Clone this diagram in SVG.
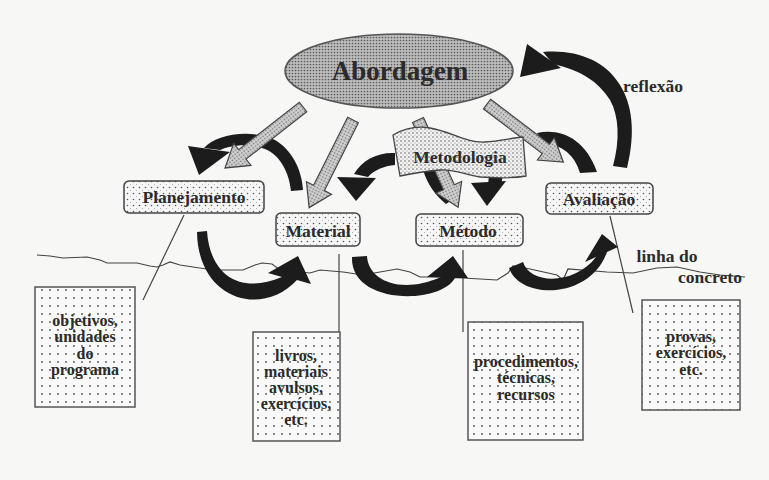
<svg xmlns="http://www.w3.org/2000/svg" width="769" height="480" viewBox="0 0 769 480">
<style>
text{font-family:"Liberation Serif","Times New Roman",serif;font-weight:bold;fill:#2b2b2b;text-anchor:middle}
.lbl{font-size:17.5px}
.sm{font-size:16px}
.box{fill:url(#dotsL);stroke:#555;stroke-width:1.5}
.rbox{fill:url(#dotsS);stroke:#444;stroke-width:1.5}
.garr{fill:url(#gray);stroke:#444;stroke-width:1.2}
.black{fill:#1c1c1c}
.thin{fill:none;stroke:#444;stroke-width:1.2}
</style>
<defs>
<pattern id="dotsL" width="8" height="8" patternUnits="userSpaceOnUse"><rect width="8" height="8" fill="#fafafa"/><circle cx="2" cy="2" r="0.9" fill="#555"/></pattern>
<pattern id="dotsS" width="6" height="6" patternUnits="userSpaceOnUse"><rect width="6" height="6" fill="#f6f6f6"/><circle cx="1.5" cy="1.5" r="0.8" fill="#555"/><circle cx="4.5" cy="4.5" r="0.5" fill="#999"/></pattern>
<pattern id="gray" width="3" height="3" patternUnits="userSpaceOnUse"><rect width="3" height="3" fill="#cfcfcf"/><circle cx="1.5" cy="1.5" r="0.75" fill="#6a6a6a"/></pattern>
<pattern id="grayD" width="3" height="3" patternUnits="userSpaceOnUse"><rect width="3" height="3" fill="#bdbdbd"/><circle cx="1.5" cy="1.5" r="0.85" fill="#5a5a5a"/></pattern>
<pattern id="banner" width="4" height="4" patternUnits="userSpaceOnUse"><rect width="4" height="4" fill="#f2f2f2"/><circle cx="1" cy="1" r="0.75" fill="#555"/><circle cx="3" cy="3" r="0.6" fill="#888"/></pattern>
</defs>
<rect width="769" height="480" fill="#f7f7f5"/>

<g id="concrete-line">
<polyline class="thin" points="37,255 50,256 63,258 87,257 100,260 107,263 125,263 137,263 150,266 157,267 163,265 170,262 180,265 193,267 213,270 243,270 255,265 262,263 272,264 280,270 310,273 320,270 343,272 363,275 380,272 397,269 410,272 420,277 430,277 463,278 497,280 508,273 513,266 530,269 557,275 563,280 568,269 607,272 633,273 657,268 677,267 700,272 720,275 745,277"/>
</g>

<g id="connectors">
<!-- thin leader lines -->
<line class="thin" x1="184" y1="215" x2="143" y2="300"/>
<line class="thin" x1="339" y1="254" x2="339" y2="332"/>
<line class="thin" x1="463" y1="250" x2="463" y2="332"/>
<line class="thin" x1="610" y1="216" x2="633" y2="313"/>
<!-- black curved arrows -->
<path class="black" d="M204,148 C215,135 250,128 275,140 C292,150 302,170 303,190 L291,191 C289,172 280,155 265,149 C248,142 228,146 220,150 Z"/>
<polygon class="black" points="188,146 230,152 199,175"/>
<path class="black" d="M395,153 C378,152 362,160 354,174 L368,177 C374,170 384,166 395,165 Z"/>
<polygon class="black" points="337,177 376,178 356,201"/>
<path class="black" d="M423,170 C428,185 435,195 446,204 L458,196 C450,190 445,180 444,170 Z"/>
<polygon class="black" points="489,174 503,174 501,186 488,186"/>
<polygon class="black" points="471,183 506,181 487,206"/>
<path class="black" d="M537,133 C560,128 585,138 597,172 L580,173 C575,155 562,145 545,143 Z"/>
<path class="black" d="M543,52 C575,49 605,60 620,85 C632,104 636,132 627,168 L613,166 C620,140 619,116 610,100 C598,81 580,70 553,64 Z"/>
<polygon class="black" points="527,44 561,68 520,77"/>
<path class="black" d="M197,232 L207,231 C210,275 240,295 282,277 L268,273 L298,256 L311,284 L297,280 C262,318 198,300 197,232 Z"/>
<path class="black" d="M352,257 L367,256 C368,280 400,295 441,277 L427,277 L453,256 L468,278 L455,278 C440,305 350,305 352,257 Z"/>
<path class="black" d="M509,268 L523,262 C530,285 575,285 596,257 L585,262 L602,234 L618,247 L607,252 C590,300 520,300 509,268 Z"/>
<!-- gray block arrows from Abordagem -->
<polygon class="garr" transform="translate(303,107) rotate(142)" points="0,-6 77,-6 77,-14 99,0 77,14 77,6 0,6"/>
<polygon class="garr" transform="translate(353,120) rotate(116.6)" points="0,-6 76,-6 76,-14 98,0 76,14 76,6 0,6"/>
<polygon class="garr" transform="translate(418,120) rotate(65.3)" points="0,-6 74,-6 74,-14 96,0 74,14 74,6 0,6"/>
<polygon class="garr" transform="translate(487,104) rotate(37.3)" points="0,-6 74,-6 74,-14 96,0 74,14 74,6 0,6"/>
</g>

<g id="abordagem">
<ellipse cx="399" cy="71" rx="114" ry="37" fill="url(#grayD)" stroke="#555" stroke-width="1.5"/>
<text x="400" y="80" style="font-size:27px">Abordagem</text>
</g>

<g id="metodologia">
<path d="M393,135 C405,128 418,126 430,128 C450,131 465,143 485,142 C500,141 512,138 523,137 L526,176 C510,179 495,178 480,177 C465,175 455,169 440,170 C425,171 410,174 400,176 Z" fill="url(#banner)" stroke="#444" stroke-width="1.3"/>
<text class="lbl" x="460" y="163">Metodologia</text>
</g>

<g id="planejamento">
<rect class="rbox" x="124" y="181" width="140" height="32" rx="5"/>
<text class="lbl" x="194" y="203">Planejamento</text>
</g>
<g id="material">
<rect class="rbox" x="276" y="213" width="84" height="33" rx="5"/>
<text class="lbl" x="318" y="237">Material</text>
</g>
<g id="metodo">
<rect class="rbox" x="416" y="214" width="107" height="32" rx="5"/>
<text class="lbl" x="468" y="237">Método</text>
</g>
<g id="avaliacao">
<rect class="rbox" x="546" y="183" width="107" height="31" rx="5"/>
<text class="lbl" x="599" y="205">Avaliação</text>
</g>

<g id="reflexao-label"><text class="lbl" x="653" y="92">reflexão</text></g>
<g id="linha-label">
<text class="lbl" x="667" y="262">linha do</text>
<text class="lbl" x="710" y="283">concreto</text>
</g>

<g id="objetivos">
<rect class="box" x="35" y="287" width="100" height="120"/>
<text class="sm" x="85" y="326">objetivos,</text>
<text class="sm" x="85" y="342">unidades</text>
<text class="sm" x="85" y="359">do</text>
<text class="sm" x="85" y="375">programa</text>
</g>
<g id="livros">
<rect class="box" x="253" y="332" width="87" height="109"/>
<text class="sm" x="296" y="361">livros,</text>
<text class="sm" x="296" y="377">materiais</text>
<text class="sm" x="296" y="393">avulsos,</text>
<text class="sm" x="296" y="409">exercícios,</text>
<text class="sm" x="296" y="425">etc.</text>
</g>
<g id="procedimentos">
<rect class="box" x="468" y="322" width="115" height="118"/>
<text class="sm" x="526" y="367">procedimentos,</text>
<text class="sm" x="526" y="383">técnicas,</text>
<text class="sm" x="526" y="400">recursos</text>
</g>
<g id="provas">
<rect class="box" x="642" y="300" width="98" height="110"/>
<text class="sm" x="691" y="342">provas,</text>
<text class="sm" x="691" y="358">exercícios,</text>
<text class="sm" x="691" y="375">etc.</text>
</g>
</svg>
